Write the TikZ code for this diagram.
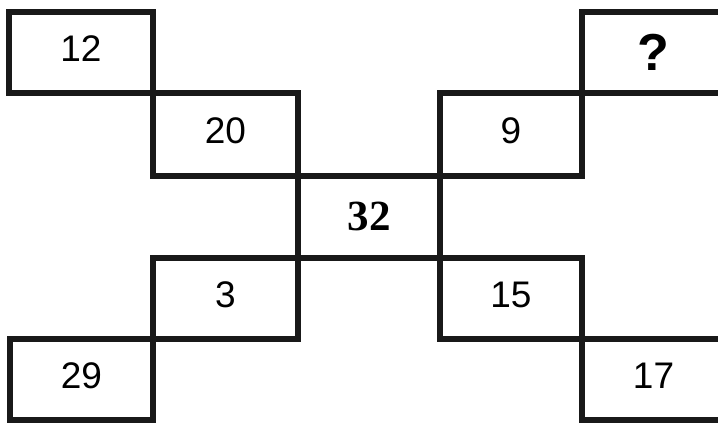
\documentclass[tikz,border=0pt]{standalone}
\usepackage{fontspec}
\setmainfont{Liberation Sans}
\newfontfamily\serifbold{Liberation Serif}[BoldFont={* Bold}]
\begin{document}
\begin{tikzpicture}[x=1pt,y=-1pt,
  cell/.style={draw=black!90, line width=6pt, rectangle, inner sep=0pt,
    minimum height=81pt, text depth=7pt,
    font=\fontsize{37}{40}\selectfont},
  wide/.style={minimum width=#1pt}]
\useasboundingbox[fill=white] (0,0) rectangle (718,424);
\node[cell, wide=144] (a12) at (81,52.5) {12};
\node[cell, wide=145, minimum height=83pt] (a20) at (225.5,134.5) {20};
\node[cell, wide=142, minimum height=82pt, text depth=2pt,
      font=\serifbold\bfseries\fontsize{43}{46}\selectfont] (a32) at (369,217) {32};
\node[cell, wide=142, minimum height=83pt] (a9) at (511,134.5) {9};
\node[cell, wide=143, text depth=0pt,
      font=\bfseries\fontsize{52}{56}\selectfont] (aq) at (653.5,52.5) {?};
\node[cell, wide=145] (a3) at (225.5,298.5) {3};
\node[cell, wide=143] (a29) at (81.5,379.5) {29};
\node[cell, wide=142] (a15) at (511,298.5) {15};
\node[cell, wide=143] (a17) at (653.5,379.5) {17};
\end{tikzpicture}
\end{document}
